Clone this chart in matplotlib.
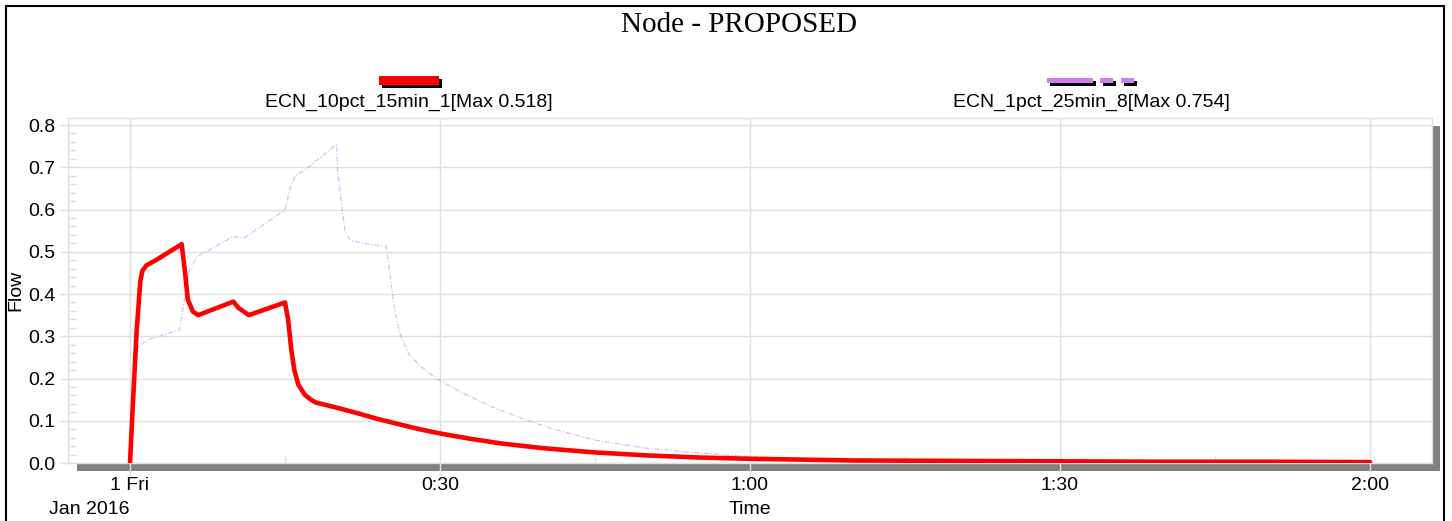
import matplotlib
matplotlib.use("Agg")
import matplotlib.pyplot as plt
from matplotlib.patches import Rectangle
from matplotlib.ticker import MultipleLocator, FixedLocator

# ---- data (time in minutes from 1 Jan 2016 00:00, flow) ----
red_t = [0, 0.3, 0.65, 1.0, 1.2, 1.6, 2.5, 5.0, 5.3, 5.6, 6.1, 6.6, 10.0, 10.5,
         11.5, 15.0, 15.3, 15.6, 15.9, 16.3, 16.9, 17.5, 18.0, 20.0, 22.0,
         24.0, 26.0, 28.0, 30, 33, 36, 40, 45, 50, 55, 60, 65, 70, 80, 90,
         100, 110, 120]
red_flow = [0.0, 0.15, 0.315, 0.43, 0.455, 0.468, 0.48, 0.518, 0.457, 0.386,
            0.358, 0.350, 0.382, 0.367, 0.350, 0.380, 0.34, 0.27, 0.22, 0.185,
            0.162, 0.150, 0.143, 0.131, 0.118, 0.104, 0.092, 0.080, 0.070,
            0.057, 0.046, 0.035, 0.025, 0.018, 0.013, 0.010, 0.008, 0.006,
            0.005, 0.004, 0.003, 0.003, 0.002]

purple_t = [0, 0.3, 0.7, 1.5, 4.8, 5.0, 5.65, 6.45, 10.0, 11.0, 15.0, 15.5,
            16.0, 17.0, 20.0, 20.1, 20.5, 20.8, 21.3, 22.5, 24.8, 25.2, 25.6,
            26.2, 27.0, 28.0, 29.0, 30, 32, 35, 38, 41, 45, 50, 55, 60, 65,
            70, 80, 90, 100, 110, 120]
purple_flow = [0.0, 0.15, 0.27, 0.29, 0.315, 0.346, 0.45, 0.488, 0.536, 0.532,
               0.599, 0.65, 0.68, 0.695, 0.754, 0.693, 0.607, 0.551, 0.528,
               0.520, 0.512, 0.44, 0.36, 0.30, 0.257, 0.232, 0.212, 0.195,
               0.168, 0.133, 0.105, 0.080, 0.054, 0.035, 0.024, 0.015, 0.011,
               0.008, 0.005, 0.004, 0.003, 0.002, 0.002]

red_name = "ECN_10pct_15min_1[Max 0.518]"
purple_name = "ECN_1pct_25min_8[Max 0.754]"
title_text = "Node - PROPOSED"
x_ticks = [0, 30, 60, 90, 120]
x_tick_labels = ["1 Fri", "0:30", "1:00", "1:30", "2:00"]
y_ticks = [0.0, 0.1, 0.2, 0.3, 0.4, 0.5, 0.6, 0.7, 0.8]

RED = "#ff0000"
VIOLET = "#cc80ee"
GRID = "#e0e0e0"
SHADOW = "#808080"
FS = 14

W, H = 1452, 521
plt.rcParams["font.family"] = ["Liberation Sans", "DejaVu Sans"]
fig = plt.figure(figsize=(W / 100, H / 100), dpi=100)


def fx(x):
    return x / W


def fy(y):
    return 1 - y / H


def px_rect(x0, y0, x1, y1, **kw):
    r = Rectangle((fx(x0), fy(y1)), fx(x1) - fx(x0), fy(y0) - fy(y1),
                  transform=fig.transFigure, **kw)
    fig.add_artist(r)
    return r


# outer frame
px_rect(6, 6, 1444, 540, fill=False, edgecolor="black", linewidth=1.5, zorder=5)

# drop shadow of the plot box
px_rect(77, 463, 1440, 471, facecolor=SHADOW, edgecolor="none", zorder=-1)
px_rect(1432, 126, 1440, 471, facecolor=SHADOW, edgecolor="none", zorder=-1)

ax = fig.add_axes([fx(68), fy(463), fx(1432) - fx(68), fy(118) - fy(463)])
ax.set_xlim(-6, 126)
ax.set_ylim(0, 0.8166)

ax.plot(purple_t, purple_flow, color=VIOLET, linewidth=0.9, alpha=0.55,
        dashes=(4, 1.5, 1, 1.5), zorder=3)
ax.plot(red_t, red_flow, color=RED, linewidth=3.3, solid_capstyle="round",
        solid_joinstyle="round", zorder=4)

for s in ax.spines.values():
    s.set_color(GRID)
    s.set_linewidth(1.0)

ax.yaxis.set_major_locator(FixedLocator(y_ticks))
ax.set_yticklabels([f"{v:.1f}" for v in y_ticks])
ax.yaxis.set_minor_locator(MultipleLocator(0.02))
ax.xaxis.set_major_locator(FixedLocator(x_ticks))
ax.set_xticklabels(x_tick_labels)
ax.xaxis.set_minor_locator(MultipleLocator(15))

ax.grid(True, which="major", color=GRID, linewidth=1.0)
ax.set_axisbelow(True)
ax.tick_params(axis="y", which="major", direction="out", length=6, width=1.0,
               color=GRID, labelsize=FS, pad=3, labelcolor="black")
ax.tick_params(axis="y", which="minor", direction="in", length=6, width=1.0,
               color=GRID)
ax.tick_params(axis="x", which="major", direction="out", length=9, width=1.0,
               color=GRID, labelsize=FS, pad=1, labelcolor="black")
ax.tick_params(axis="x", which="minor", direction="in", length=5, width=1.0,
               color=GRID)
for t in ax.get_xticklines() + ax.get_yticklines():
    t.set_zorder(6)

ax.set_ylabel("Flow", fontsize=FS, labelpad=3)
fig.text(fx(750), fy(509), "Time", ha="center", va="center", fontsize=FS)
fig.text(fx(89), fy(509), "Jan 2016", ha="center", va="center", fontsize=FS)

# title
fig.text(fx(739), fy(25), title_text, ha="center", va="center", fontsize=21,
         family=["Liberation Serif", "DejaVu Serif"])

# legend swatches with black drop shadows
px_rect(382, 79, 442, 88, facecolor="black", edgecolor="none")
px_rect(379, 76, 439, 85, facecolor=RED, edgecolor="none")
fig.text(fx(408.5), fy(102), red_name, ha="center", va="center", fontsize=FS)

for a, b in [(1047, 1093), (1100, 1113), (1121, 1134)]:
    px_rect(a + 3, 81, b + 3, 86, facecolor="black", edgecolor="none")
    px_rect(a, 77.5, b, 82.5, facecolor=VIOLET, edgecolor="none")
fig.text(fx(1091.5), fy(102), purple_name, ha="center", va="center",
         fontsize=FS)

fig.savefig("out.png", dpi=100)
